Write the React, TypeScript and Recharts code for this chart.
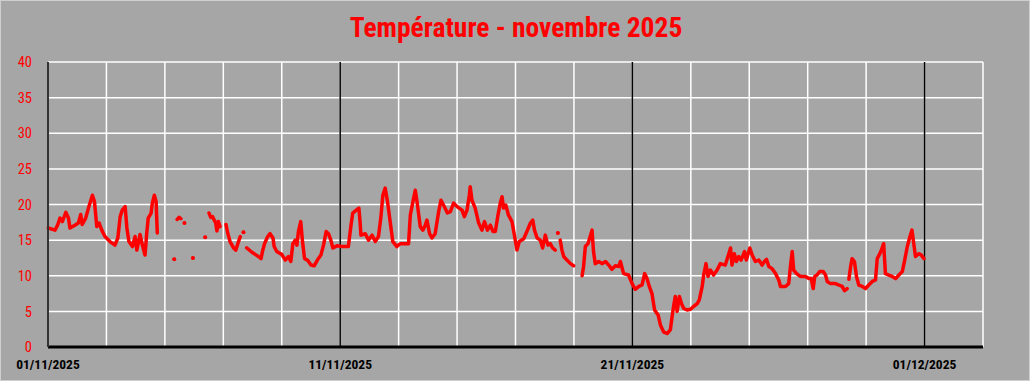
import React from 'react';
import {
  LineChart,
  Line,
  XAxis,
  YAxis,
  CartesianGrid,
  ReferenceLine,
} from 'recharts';

// days since 01/11/2025 00:00, null temp = missing measures
const days = [
  0.01, 0.24, 0.33, 0.41, 0.49, 0.61, 0.7, 0.75, 0.92, 1.04, 1.12, 1.17, 1.29, 1.4, 1.52, 1.59, 1.67, 1.75, 1.84, 1.95,
  2.12, 2.29, 2.39, 2.47, 2.54, 2.64, 2.7, 2.77, 2.89, 2.98, 3.04, 3.15, 3.23, 3.32, 3.38, 3.43, 3.53, 3.57, 3.64, 3.7,
  3.74, 3.78, 4.32, 4.37, 4.42, 4.49, 4.55, 4.61, 4.67, 4.8, 4.96, 5.2, 5.38, 5.45, 5.51, 5.57, 5.63, 5.74, 5.78, 5.83,
  5.89, 6.0, 6.09, 6.15, 6.23, 6.35, 6.43, 6.52, 6.58, 6.63, 6.69, 6.75, 6.8, 6.98, 7.09, 7.2, 7.29, 7.34, 7.41, 7.52,
  7.6, 7.7, 7.74, 7.83, 8.0, 8.12, 8.23, 8.31, 8.38, 8.46, 8.52, 8.57, 8.65, 8.71, 8.78, 8.88, 9.0, 9.11, 9.22, 9.34,
  9.43, 9.52, 9.6, 9.68, 9.75, 9.89, 10.06, 10.28, 10.37, 10.43, 10.55, 10.64, 10.68, 10.71, 10.86, 10.97, 11.09, 11.2, 11.31, 11.39,
  11.46, 11.54, 11.62, 11.71, 11.8, 11.94, 12.05, 12.23, 12.34, 12.4, 12.49, 12.57, 12.63, 12.74, 12.83, 12.91, 12.97, 13.06, 13.14, 13.25,
  13.37, 13.45, 13.54, 13.67, 13.77, 13.88, 14.0, 14.17, 14.25, 14.34, 14.42, 14.45, 14.51, 14.62, 14.74, 14.85, 14.94, 15.04, 15.14, 15.23,
  15.31, 15.4, 15.48, 15.54, 15.59, 15.67, 15.76, 15.88, 15.97, 16.05, 16.13, 16.28, 16.39, 16.51, 16.59, 16.65, 16.74, 16.85, 16.93, 17.02,
  17.11, 17.19, 17.27, 17.36, 17.4, 17.45, 17.49, 17.53, 17.59, 17.65, 17.76, 17.88, 17.99, 18.1, 18.28, 18.33, 18.39, 18.48, 18.62, 18.67,
  18.73, 18.85, 18.96, 19.08, 19.19, 19.3, 19.42, 19.53, 19.59, 19.7, 19.87, 19.99, 20.1, 20.22, 20.33, 20.42, 20.5, 20.58, 20.67, 20.76,
  20.88, 20.96, 21.07, 21.19, 21.3, 21.36, 21.41, 21.47, 21.53, 21.61, 21.68, 21.76, 21.87, 21.99, 22.1, 22.22, 22.29, 22.39, 22.44, 22.52,
  22.59, 22.67, 22.78, 22.9, 23.01, 23.18, 23.3, 23.36, 23.41, 23.49, 23.56, 23.64, 23.72, 23.84, 23.9, 24.02, 24.1, 24.21, 24.33, 24.44,
  24.52, 24.59, 24.67, 24.78, 24.9, 25.01, 25.07, 25.24, 25.35, 25.41, 25.47, 25.52, 25.62, 25.75, 25.92, 26.04, 26.12, 26.19, 26.24, 26.32,
  26.41, 26.53, 26.61, 26.67, 26.78, 26.95, 27.07, 27.18, 27.26, 27.35, 27.38, 27.41, 27.47, 27.52, 27.6, 27.67, 27.75, 27.87, 27.98, 28.09,
  28.21, 28.32, 28.38, 28.47, 28.55, 28.6, 28.66, 28.78, 28.89, 29.01, 29.12, 29.24, 29.32, 29.41, 29.5, 29.57, 29.63, 29.69, 29.81, 29.89,
  29.98,
];

const temps: (number | null)[] = [
  16.7, 16.4, 17.1, 18.1, 17.6, 18.9, 18.1, 16.7, 17.1, 17.4, 18.6, 17.2, 18.1, 19.7, 21.3, 20.4, 16.9, 17.4, 16.4, 15.5,
  14.8, 14.3, 15.3, 18.3, 19.2, 19.7, 16.7, 14.8, 14.1, 15.5, 13.6, 15.8, 14.3, 12.9, 16.0, 18.1, 18.8, 20.2, 21.3, 20.4,
  16.0, null, 12.3, null, 17.9, 18.2, 18.0, null, 17.4, null, 12.5, null, 15.4, null, 18.8, 18.2, 18.3, 17.4, 16.3, 17.6,
  16.9, null, 17.2, 16.0, 14.8, 13.9, 13.6, 14.8, 15.5, null, 16.1, null, 13.9, 13.3, 13.0, 12.7, 12.4, 13.4, 14.5, 15.5,
  15.9, 15.3, 14.1, 13.4, 13.0, 12.2, 12.7, 12.0, 14.5, 15.0, 14.3, 16.2, 17.6, 14.8, 12.4, 12.2, 11.5, 11.4, 12.2, 12.9,
  14.3, 16.2, 15.9, 15.0, 13.9, 14.2, 14.1, 14.1, 17.1, 18.8, 19.2, 19.5, 17.6, 15.7, 15.9, 15.0, 15.7, 14.8, 15.5, 18.1,
  21.3, 22.3, 20.4, 17.6, 14.8, 14.1, 14.5, 14.5, 14.5, 18.5, 20.4, 22.0, 20.4, 16.9, 16.4, 17.1, 17.8, 15.9, 15.3, 15.9,
  19.0, 20.6, 19.9, 18.8, 19.0, 20.2, 19.7, 19.2, 18.3, 19.2, 21.3, 22.5, 20.6, 19.5, 17.4, 16.4, 17.6, 16.4, 17.1, 16.2,
  16.2, 18.5, 20.2, 21.1, 19.5, 19.9, 18.5, 17.6, 15.5, 13.6, 14.8, 15.2, 16.2, 17.4, 17.8, 16.4, 15.3, 15.0, 13.9, 15.7,
  14.3, 14.5, 13.9, 13.6, null, 16.0, null, 15.0, 13.6, 12.7, 12.2, 11.7, 11.4, null, 10.0, 11.3, 14.1, 14.5, 16.4, 13.4,
  11.7, 12.0, 11.7, 12.0, 11.5, 10.9, 11.4, 11.3, 12.0, 10.3, 10.1, 8.9, 8.1, 8.5, 8.7, 10.3, 9.6, 8.5, 7.5, 5.2,
  4.5, 3.1, 2.1, 1.9, 2.4, 4.3, 5.7, 7.1, 5.0, 7.1, 6.1, 5.4, 5.2, 5.3, 5.7, 6.1, 6.6, 8.5, 10.1, 11.7,
  9.9, 10.8, 10.1, 10.8, 11.7, 11.5, 13.1, 13.9, 11.5, 13.1, 12.0, 12.7, 12.2, 13.4, 12.2, 13.9, 12.9, 12.0, 12.2, 11.5,
  12.0, 12.3, 11.3, 11.0, 10.3, 9.4, 8.5, 8.5, 8.9, 11.3, 13.4, 10.8, 10.3, 9.9, 9.9, 9.6, 9.6, 8.2, 9.9, 10.1,
  10.6, 10.6, 10.1, 9.2, 8.9, 8.9, 8.7, 8.5, 7.9, 8.2, null, 9.5, 11.3, 12.4, 12.0, 9.9, 8.7, 8.5, 8.2, 8.7,
  9.2, 9.4, 12.4, 13.1, 13.9, 14.5, 10.3, 10.1, 9.9, 9.6, 10.1, 10.6, 12.2, 14.1, 15.5, 16.4, 14.5, 12.7, 13.1, 12.9,
  12.4,
];

const yTicks = [0, 5, 10, 15, 20, 25, 30, 35, 40];
const gridDays = [0, 2, 4, 6, 8, 10, 12, 14, 16, 18, 20, 22, 24, 26, 28, 30, 32];
const labelDays = [0, 10, 20, 30];
const dateLabels = ['01/11/2025', '11/11/2025', '21/11/2025', '01/12/2025'];
const decadeDays = [10, 20, 30];

const data = days.map((d, i) => ({ day: d, temp: temps[i] }));

const RED = '#FF0000';
const FONT = "'Liberation Sans Narrow', 'Roboto Condensed', Arial, sans-serif";

// draw a dot only for lonely measures (no neighbour to join)
const LonelyDot = (props: any) => {
  const { cx, cy, index } = props;
  const v = temps[index];
  const prev = index > 0 ? temps[index - 1] : null;
  const next = index < temps.length - 1 ? temps[index + 1] : null;
  if (v == null || prev != null || next != null || cx == null || cy == null) {
    return <g key={`d${index}`} />;
  }
  return <circle key={`d${index}`} cx={cx} cy={cy} r={2} fill={RED} stroke="none" />;
};

const XTick = (props: any) => {
  const { x, y, payload } = props;
  const idx = labelDays.indexOf(payload.value);
  if (idx < 0) return <g />;
  return (
    <text x={x} y={y + 14} textAnchor="middle" fill="#000" fontSize={13.5} fontWeight="bold" fontFamily={FONT}>
      {dateLabels[idx]}
    </text>
  );
};

const App: React.FC = () => {
  return (
    <div
      style={{
        position: 'fixed',
        left: 0,
        top: 0,
        width: 1030,
        height: 381,
        background: '#A6A6A6',
        boxSizing: 'border-box',
        border: '1px solid #CFCFCF',
      }}
    >
      <div
        style={{
          position: 'absolute',
          left: 0,
          top: 10,
          width: 1030,
          textAlign: 'center',
          color: RED,
          fontSize: 27.5,
          fontWeight: 'bold',
          fontFamily: FONT,
        }}
      >
        Température - novembre 2025
      </div>
      <div style={{ position: 'absolute', left: -1, top: -1 }}>
        <LineChart width={1030} height={381} data={data} margin={{ top: 62, right: 47, left: 0, bottom: 0 }}>
          <CartesianGrid stroke="#FFFFFF" strokeWidth={1.5} />
          <XAxis
            dataKey="day"
            type="number"
            domain={[0, 32]}
            ticks={gridDays}
            interval={0}
            height={34}
            axisLine={{ stroke: '#000', strokeWidth: 3 }}
            tickLine={false}
            tick={<XTick />}
          />
          <YAxis
            domain={[0, 40]}
            ticks={yTicks}
            interval={0}
            width={48}
            axisLine={{ stroke: '#333', strokeWidth: 2 }}
            tickLine={false}
            tickMargin={10}
            tick={{ fill: RED, fontSize: 14.5, fontFamily: FONT }}
          />
          {decadeDays.map((d) => (
            <ReferenceLine key={d} x={d} stroke="#000" strokeWidth={1.5} />
          ))}
          <Line
            type="linear"
            dataKey="temp"
            stroke={RED}
            strokeWidth={3.5}
            strokeLinejoin="round"
            strokeLinecap="round"
            dot={<LonelyDot />}
            activeDot={false}
            connectNulls={false}
            isAnimationActive={false}
          />
        </LineChart>
      </div>
    </div>
  );
};

export default App;
